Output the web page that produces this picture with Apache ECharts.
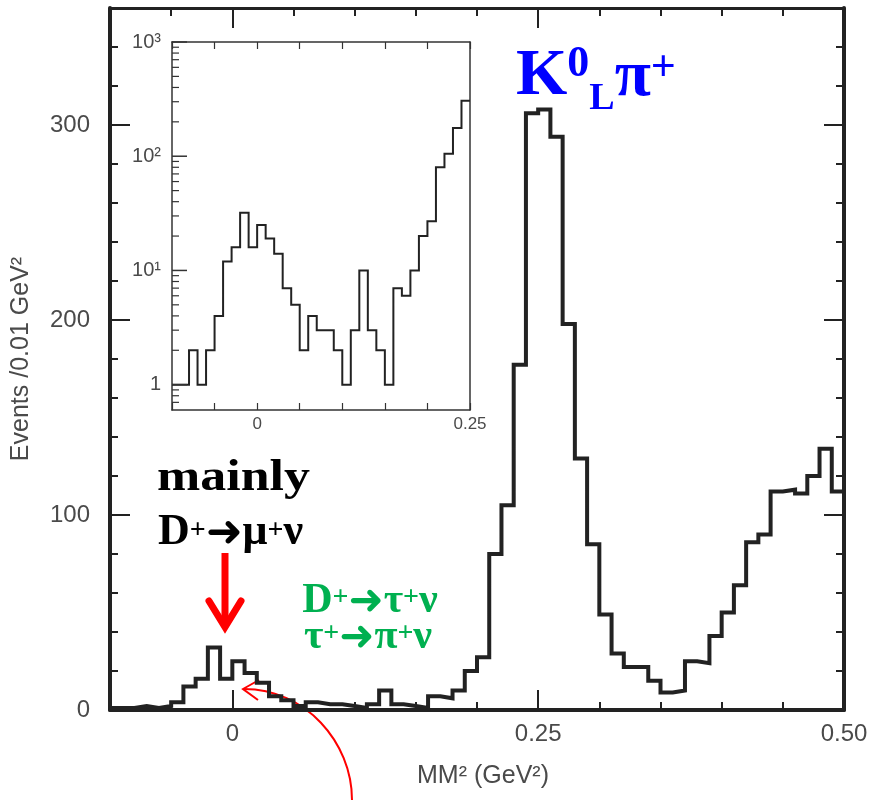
<!DOCTYPE html>
<html>
<head>
<meta charset="utf-8">
<script src="https://cdn.jsdelivr.net/npm/echarts@6/dist/echarts.min.js"></script>
<style>
  html, body { margin: 0; padding: 0; background: #ffffff; }
  #chart { width: 875px; height: 800px; }
</style>
</head>
<body>
<div id="chart"></div>
<script>
// Missing-mass-squared spectrum, 0.01 GeV^2 bins starting at -0.10 GeV^2
const binStart = -0.10;
const binWidth = 0.01;
const events = [
  1, 1, 2, 1, 2, 4, 12, 16, 32, 16,
  25, 19, 14, 7, 5, 2, 4, 3, 3, 2,
  1, 3, 10, 3, 2, 1, 7, 6, 10, 20,
  27, 80, 105, 177, 306, 308, 294, 198, 129, 85,
  49, 29, 22, 22, 15, 9, 10, 25, 24, 38,
  50, 64, 86, 90, 112, 113, 111, 120, 134, 112
];
// the inset shows the first 35 bins (-0.10 .. 0.25) on a log scale
const insetBinCount = 35;

// axis ticks and labels
const mainXMajor = [0, 0.25, 0.50];
const mainXLabels = ['0', '0.25', '0.50'];
const mainYMajor = [0, 100, 200, 300];
const insetXMin = -0.1;
const insetXMax = 0.25;
const insetXLabelValues = [0, 0.25];
const insetXLabels = ['0', '0.25'];
const insetYMin = 0.6;
const insetYMax = 1000;
const insetYMajor = [1, 10, 100, 1000];
const insetYLabels = ['1', '10¹', '10²', '10³'];
const insetYMinor = [0.7, 0.8, 0.9, 2, 3, 4, 5, 6, 7, 8, 9,
  20, 30, 40, 50, 60, 70, 80, 90, 200, 300, 400, 500, 600, 700, 800, 900];

// histogram outline: one point per bin edge, drawn as a step line
function stepPoints(values) {
  const pts = values.map((v, i) => [+(binStart + i * binWidth).toFixed(2), v]);
  pts.push([+(binStart + values.length * binWidth).toFixed(2), values[values.length - 1]]);
  return pts;
}

const INK = '#222222';
const FRAME2 = '#333333';
const TICKTXT = '#4a4a4a';
const SANS = '"Liberation Sans", Arial, Helvetica, sans-serif';
const SERIF = '"Liberation Serif", "Times New Roman", serif';
const ARROWFONT = '"DejaVu Sans", sans-serif';

function labelLookup(values, labels) {
  return v => {
    for (let i = 0; i < values.length; i++) {
      if (Math.abs(values[i] - v) < 1e-9 * Math.max(1, Math.abs(v))) return labels[i];
    }
    return '';
  };
}

// Lay out a row of bold text pieces side by side, each on its own baseline
// (used for superscripts / subscripts in the physics labels).
const measureCtx = document.createElement('canvas').getContext('2d');
const MID = 0.34; // canvas 'middle' sits about this many em above the baseline
function textRow(x, align, color, pieces) {
  const fonts = pieces.map(p => 'bold ' + p[1] + 'px ' + (p[3] || SERIF));
  const widths = pieces.map((p, i) => { measureCtx.font = fonts[i]; return measureCtx.measureText(p[0]).width; });
  const total = widths.reduce((a, b) => a + b, 0);
  let cx = align === 'center' ? x - total / 2 : x;
  return pieces.map((p, i) => {
    const el = {
      type: 'text', x: cx, y: p[2] - MID * p[1], z: 10, silent: true,
      style: { text: p[0], font: fonts[i], fill: color, align: 'left', verticalAlign: 'middle' }
    };
    cx += widths[i];
    return el;
  });
}

// Tick marks along the left edge of the log-scale inset, placed through the inset's own scales
function logEdgeTicks(values, length, width) {
  return {
    type: 'custom', xAxisIndex: 0, yAxisIndex: 0, silent: true, z: 4, clip: false,
    data: values.map(v => [insetXMin, v]),
    renderItem: (params, api) => {
      const p = api.coord([api.value(0), api.value(1)]);
      return {
        type: 'line',
        shape: { x1: p[0], y1: p[1], x2: p[0] + length, y2: p[1] },
        style: { stroke: FRAME2, lineWidth: width }
      };
    }
  };
}

const chart = echarts.init(document.getElementById('chart'), null, { renderer: 'canvas' });

const option = {
  animation: false,
  backgroundColor: '#ffffff',
  grid: [
    { left: 172, right: 405, top: 42, bottom: 390, containLabel: false },  // inset
    { left: 110, right: 31, top: 8, bottom: 90, containLabel: false }      // main plot
  ],
  xAxis: [
    { // 0: inset, bottom
      type: 'value', gridIndex: 0, position: 'bottom', min: insetXMin, max: insetXMax, interval: 0.05,
      axisLine: { show: true, onZero: false, lineStyle: { color: FRAME2, width: 1.5 } },
      axisTick: { show: true, inside: true, length: 7, lineStyle: { color: FRAME2, width: 1.2 } },
      axisLabel: { show: true, customValues: insetXLabelValues, formatter: labelLookup(insetXLabelValues, insetXLabels),
        color: TICKTXT, fontFamily: SANS, fontSize: 17, margin: 6 },
      splitLine: { show: false }
    },
    { // 1: inset, top
      type: 'value', gridIndex: 0, position: 'top', min: insetXMin, max: insetXMax, interval: 0.05,
      axisLine: { show: true, onZero: false, lineStyle: { color: FRAME2, width: 1.5 } },
      axisTick: { show: true, inside: true, length: 7, lineStyle: { color: FRAME2, width: 1.2 } },
      axisLabel: { show: false }, splitLine: { show: false }
    },
    { // 2: main, bottom: line, major ticks, labels, title
      type: 'value', gridIndex: 1, position: 'bottom', min: -0.1, max: 0.5,
      axisLine: { show: true, onZero: false, lineStyle: { color: INK, width: 4 } },
      axisTick: { show: true, inside: true, length: 20, customValues: mainXMajor, lineStyle: { color: INK, width: 2 } },
      axisLabel: { show: true, customValues: mainXMajor, formatter: labelLookup(mainXMajor, mainXLabels),
        color: TICKTXT, fontFamily: SANS, fontSize: 24, margin: 12 },
      splitLine: { show: false },
      name: 'MM² (GeV²)', nameLocation: 'middle', nameGap: 54,
      nameTextStyle: { color: TICKTXT, fontFamily: SANS, fontSize: 25, padding: [0, 0, 0, 12] }
    },
    { // 3: main, bottom minor ticks
      type: 'value', gridIndex: 1, position: 'bottom', min: -0.1, max: 0.5, interval: 0.05,
      axisLine: { show: false, onZero: false },
      axisTick: { show: true, inside: true, length: 8, lineStyle: { color: INK, width: 2 } },
      axisLabel: { show: false }, splitLine: { show: false }
    },
    { // 4: main, top frame
      type: 'value', gridIndex: 1, position: 'top', min: -0.1, max: 0.5,
      axisLine: { show: true, onZero: false, lineStyle: { color: INK, width: 3 } },
      axisTick: { show: true, inside: true, length: 20, customValues: mainXMajor, lineStyle: { color: INK, width: 2 } },
      axisLabel: { show: false }, splitLine: { show: false }
    },
    { // 5: main, top minor ticks
      type: 'value', gridIndex: 1, position: 'top', min: -0.1, max: 0.5, interval: 0.05,
      axisLine: { show: false, onZero: false },
      axisTick: { show: true, inside: true, length: 8, lineStyle: { color: INK, width: 2 } },
      axisLabel: { show: false }, splitLine: { show: false }
    }
  ],
  yAxis: [
    { // 0: inset, left log axis (line, labels, data)
      type: 'log', gridIndex: 0, position: 'left', min: insetYMin, max: insetYMax, logBase: 10,
      axisLine: { show: true, onZero: false, lineStyle: { color: FRAME2, width: 1.5 } },
      axisTick: { show: false },
      axisLabel: { show: true, customValues: insetYMajor, formatter: labelLookup(insetYMajor, insetYLabels),
        color: TICKTXT, fontFamily: SANS, fontSize: 20, margin: 11 },
      splitLine: { show: false }
    },
    { // 1: inset, right frame
      type: 'log', gridIndex: 0, position: 'right', min: insetYMin, max: insetYMax, logBase: 10,
      axisLine: { show: true, onZero: false, lineStyle: { color: FRAME2, width: 1.5 } },
      axisTick: { show: false }, axisLabel: { show: false }, splitLine: { show: false }
    },
    { // 2: main, left
      type: 'value', gridIndex: 1, position: 'left', min: 0, max: 360,
      axisLine: { show: true, onZero: false, lineStyle: { color: INK, width: 4 } },
      axisTick: { show: true, inside: true, length: 20, customValues: mainYMajor, lineStyle: { color: INK, width: 2 } },
      axisLabel: { show: true, customValues: mainYMajor, color: TICKTXT, fontFamily: SANS, fontSize: 24, margin: 20 },
      splitLine: { show: false },
      name: 'Events /0.01 GeV²', nameLocation: 'middle', nameGap: 76, nameRotate: 90,
      nameTextStyle: { color: TICKTXT, fontFamily: SANS, fontSize: 25 }
    },
    { // 3: main, left minor
      type: 'value', gridIndex: 1, position: 'left', min: 0, max: 360, interval: 20,
      axisLine: { show: false, onZero: false },
      axisTick: { show: true, inside: true, length: 8, lineStyle: { color: INK, width: 2 } },
      axisLabel: { show: false }, splitLine: { show: false }
    },
    { // 4: main, right frame
      type: 'value', gridIndex: 1, position: 'right', min: 0, max: 360,
      axisLine: { show: true, onZero: false, lineStyle: { color: INK, width: 4 } },
      axisTick: { show: true, inside: true, length: 20, customValues: mainYMajor, lineStyle: { color: INK, width: 2 } },
      axisLabel: { show: false }, splitLine: { show: false }
    },
    { // 5: main, right minor
      type: 'value', gridIndex: 1, position: 'right', min: 0, max: 360, interval: 20,
      axisLine: { show: false, onZero: false },
      axisTick: { show: true, inside: true, length: 8, lineStyle: { color: INK, width: 2 } },
      axisLabel: { show: false }, splitLine: { show: false }
    }
  ],
  series: [
    {
      name: 'MM2', type: 'line', xAxisIndex: 2, yAxisIndex: 2, step: 'end',
      data: stepPoints(events), showSymbol: false, silent: true, z: 3,
      lineStyle: { color: INK, width: 4, join: 'miter' }
    },
    {
      name: 'MM2 log', type: 'line', xAxisIndex: 0, yAxisIndex: 0, step: 'end',
      data: stepPoints(events.slice(0, insetBinCount)), showSymbol: false, silent: true, z: 3,
      lineStyle: { color: INK, width: 2, join: 'miter' }
    },
    logEdgeTicks(insetYMajor, 15, 1.5),
    logEdgeTicks(insetYMinor, 7, 1.2)
  ],
  graphic: [].concat(
    // K0_L pi+ peak label
    textRow(516, 'left', '#0000ff', [
      ['K', 66, 99], ['0', 44, 80], ['L', 38, 112], ['π', 66, 100], ['+', 44, 84]
    ]),
    [{ // "mainly"
      type: 'text', x: 157, y: 494 - MID * 44, scaleX: 1.18, z: 10, silent: true,
      style: { text: 'mainly', fill: '#000000', font: 'bold 44px ' + SERIF, align: 'left', verticalAlign: 'middle' }
    }],
    // D+ -> mu+ nu
    textRow(158, 'left', '#000000', [
      ['D', 44, 548], ['+', 28, 540], ['➜', 44, 550, ARROWFONT], ['μ', 44, 548], ['+', 28, 540], ['ν', 44, 548]
    ]),
    // D+ -> tau+ nu
    textRow(370, 'center', '#00b050', [
      ['D', 42, 615], ['+', 28, 607], ['➜', 42, 617, ARROWFONT], ['τ', 42, 615], ['+', 28, 607], ['ν', 42, 615]
    ]),
    // tau+ -> pi+ nu
    textRow(368, 'center', '#00b050', [
      ['τ', 42, 651], ['+', 28, 643], ['➜', 42, 653, ARROWFONT], ['π', 42, 651], ['+', 28, 643], ['ν', 42, 651]
    ]),
    [
      { // red arrow pointing at the muon peak
        type: 'group', z: 10, silent: true,
        children: [
          { type: 'line', shape: { x1: 225, y1: 553, x2: 225, y2: 624 },
            style: { stroke: '#ff0000', lineWidth: 7, lineCap: 'butt' } },
          { type: 'polyline', shape: { points: [[209, 601], [225, 627], [241, 601]] },
            style: { stroke: '#ff0000', fill: null, lineWidth: 7, lineJoin: 'miter', lineCap: 'round' } }
        ]
      },
      { // thin curved pointer
        type: 'group', z: 10, silent: true,
        children: [
          { type: 'bezierCurve', shape: { x1: 352, y1: 800, cpx1: 352, cpy1: 742, cpx2: 305, cpy2: 689, x2: 244, y2: 689 },
            style: { stroke: '#ff0000', fill: null, lineWidth: 2 } },
          { type: 'polyline', shape: { points: [[259, 680], [243, 689], [258, 700]] },
            style: { stroke: '#ff0000', fill: null, lineWidth: 2 } }
        ]
      }
    ]
  )
};

chart.setOption(option);
</script>
</body>
</html>
